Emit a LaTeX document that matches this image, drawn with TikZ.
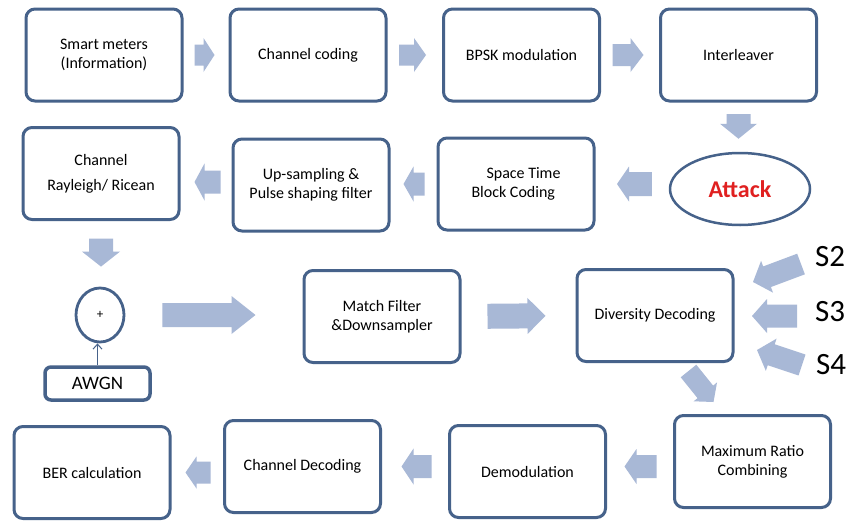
\documentclass[tikz,border=0pt]{standalone}
\usepackage{fontspec}
\setmainfont{Carlito}
\usetikzlibrary{calc,arrows.meta,shapes.geometric}
\definecolor{edgeblue}{RGB}{70,98,138}
\definecolor{flowblue}{RGB}{168,184,214}
\definecolor{attackred}{RGB}{224,32,32}
% Block arrow from #1 towards #2: gaps #3 (tail) and #4 (tip),
% half shaft width #5, head length #6, half head width #7.
\newcommand{\flowarrow}[7]{%
  \coordinate (fa) at ($(#1)!#3!(#2)$);
  \coordinate (fb) at ($(#2)!#4!(#1)$);
  \coordinate (fh) at ($(fb)!#6!(fa)$);
  \fill[flowblue] ($(fa)!#5!90:(fb)$) -- ($(fh)!#5!90:(fb)$) -- ($(fh)!#7!90:(fb)$)
    -- (fb) -- ($(fh)!#7!-90:(fb)$) -- ($(fh)!#5!-90:(fb)$) -- ($(fa)!#5!-90:(fb)$) -- cycle;}
\begin{document}
\begin{tikzpicture}[x=1pt,y=-1pt,
  block/.style={draw=edgeblue, line width=3pt, rounded corners=9pt, fill=white,
    minimum width=156pt, minimum height=92pt, align=center, inner sep=2pt,
    font=\fontsize{16}{19}\selectfont},
  slabel/.style={font=\fontsize{31}{34}\selectfont, inner sep=0pt}
]
% canvas
\fill[white] (0,0) rectangle (851,522);
\useasboundingbox (0,0) rectangle (851,522);

% transmitter chain
\node[block] (sm)   at (104,55)    {Smart meters\\(Information)};
\node[block] (cc)   at (308,55)    {Channel coding};
\node[block] (bpsk) at (521.5,55)  {BPSK modulation};
\node[block] (il)   at (738.5,55)  {Interleaver};
\node[draw=edgeblue, line width=2.5pt, ellipse, minimum width=140pt, minimum height=72pt,
      text=attackred, font=\bfseries\fontsize{24}{28}\selectfont] (attack) at (740,189) {Attack};
\node[block, align=left] (stbc) at (516,184) {\hspace*{15pt}Space Time\\Block Coding};
\node[block] (ups)  at (311,185)   {Up-sampling \&\\Pulse shaping filter};
\node[block, font=\fontsize{16}{25}\selectfont] (chan) at (101,173.5) {Channel\\Rayleigh/ Ricean};

% channel noise
\node[draw=edgeblue, line width=2.8pt, ellipse, minimum width=48pt, minimum height=54pt,
      inner sep=0pt, font=\fontsize{13}{14}\selectfont] (sum) at (100,315) {+};
\node[draw=edgeblue, line width=3.5pt, rounded corners=6pt, minimum width=105pt,
      minimum height=33pt, inner sep=2pt, font=\fontsize{19}{22}\selectfont] (awgn) at (97.5,383.5) {AWGN};

% receiver chain
\node[block] (mf)  at (382,316.5)   {Match Filter\\\&Downsampler};
\node[block] (dd)  at (655,315.5)   {Diversity Decoding};
\node[block] (mrc) at (752.5,461.5) {Maximum Ratio\\Combining};
\node[block] (dem) at (527.5,471.5) {Demodulation};
\node[block] (cd)  at (302.5,466.5) {Channel Decoding};
\node[block] (ber) at (92,472.5)    {BER calculation};

% other sources
\node[slabel] (s2) at (830,257) {S2};
\node[slabel] (s3) at (830,312) {S3};
\node[slabel] (s4) at (831,365) {S4};
\coordinate (s2tail) at (801,264);
\coordinate (s2tip)  at (753,282);
\coordinate (s3tail) at (797,316);
\coordinate (s3tip)  at (752,316);
\coordinate (s4tail) at (802,365);
\coordinate (s4tip)  at (757,350);
\coordinate (ddout)  at ($(dd.south east)+(-46,8)$);
\coordinate (mrcin)  at ($(dd.south east)+(-21,39)$);

% flow arrows
\flowarrow{sm.east}{cc.west}{11pt}{14pt}{10.5pt}{11pt}{17pt}
\flowarrow{cc.east}{bpsk.west}{11.5pt}{16pt}{10.5pt}{12pt}{17pt}
\flowarrow{bpsk.east}{il.west}{11.5pt}{15.5pt}{11pt}{13pt}{17pt}
\flowarrow{il.south}{il.south |- attack.north}{11.5pt}{13pt}{12pt}{15pt}{18.5pt}
\flowarrow{attack.west |- stbc.east}{stbc.east}{17pt}{21.5pt}{12pt}{12pt}{17.5pt}
\flowarrow{stbc.west}{stbc.west -| ups.east}{12pt}{13pt}{11.5pt}{10pt}{17.5pt}
\flowarrow{$(ups.west)+(0,-3)$}{$(ups.west -| chan.east)+(0,-3)$}{11pt}{14pt}{11.5pt}{10pt}{18.5pt}
\flowarrow{chan.south}{chan.south |- sum.north}{17.5pt}{20pt}{12pt}{15pt}{19pt}
\flowarrow{sum.east}{sum.east -| mf.west}{37pt}{47pt}{12pt}{24pt}{19pt}
\flowarrow{mf.east}{dd.west}{26pt}{30pt}{12.5pt}{18pt}{18pt}
\flowarrow{s2tail}{s2tip}{0pt}{0pt}{11pt}{15pt}{17pt}
\flowarrow{s3tail}{s3tip}{0pt}{0pt}{11.5pt}{15pt}{17pt}
\flowarrow{s4tail}{s4tip}{0pt}{0pt}{11pt}{15pt}{17pt}
\flowarrow{ddout}{mrcin}{0pt}{0pt}{10pt}{13pt}{15pt}
\flowarrow{$(mrc.west)+(0,5)$}{$(mrc.west -| dem.east)+(0,5)$}{16.5pt}{17.5pt}{11.5pt}{12pt}{17.5pt}
\flowarrow{$(dem.west)+(0,-5)$}{$(dem.west -| cd.east)+(0,-5)$}{16.5pt}{19.5pt}{11.5pt}{12pt}{18pt}
\flowarrow{cd.west |- ber.east}{ber.east}{12.5pt}{14pt}{11pt}{11pt}{16pt}

% noise injection
\draw[edgeblue, line width=1pt, -{Straight Barb[length=5pt, width=9pt]}] (awgn.north) -- (awgn.north |- sum.south);
\end{tikzpicture}
\end{document}
